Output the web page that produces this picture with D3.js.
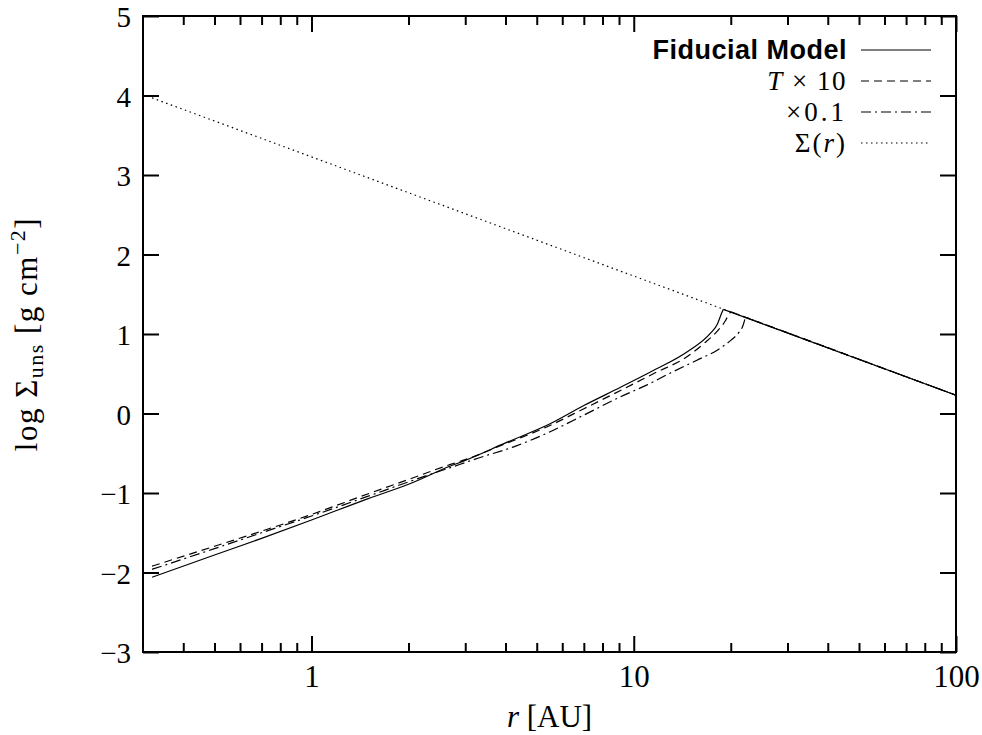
<!DOCTYPE html>
<html>
<head>
<meta charset="utf-8">
<script src="https://cdn.jsdelivr.net/npm/d3@7"></script>
<style>
  html, body { margin: 0; padding: 0; background: #fff; }
  svg { display: block; }
</style>
</head>
<body>
<svg id="chart" width="982" height="735"></svg>
<script>
// Unstable surface density vs. radius (log Sigma in g cm^-2, r in AU)
const fiducialR     = [0.32, 0.5, 0.7, 1, 1.5, 2, 2.7, 3, 4, 5.5, 7, 9.1, 11.5, 14.7, 17.3, 18.2, 18.6, 18.97];
const fiducialSigma = [-2.06, -1.78, -1.57, -1.34, -1.07, -0.89, -0.66, -0.59, -0.37, -0.13, 0.10, 0.33, 0.54, 0.78, 1.01, 1.13, 1.23, 1.31];

const hotR     = [0.32, 0.5, 0.7, 1, 1.5, 2, 2.7, 3, 4, 5.5, 7, 9.1, 11.5, 14.7, 16.5, 18.2, 19.2, 19.7, 20.0];
const hotSigma = [-1.92, -1.67, -1.48, -1.27, -1.01, -0.83, -0.64, -0.58, -0.38, -0.15, 0.06, 0.29, 0.50, 0.72, 0.88, 1.04, 1.16, 1.24, 1.28];

const lowR     = [0.32, 0.5, 0.7, 1, 1.5, 2, 2.7, 3.3, 4.3, 5.5, 7, 9.1, 11, 13, 15.7, 18.2, 20, 21.2, 21.8, 22.2];
const lowSigma = [-1.96, -1.70, -1.50, -1.29, -1.04, -0.86, -0.68, -0.56, -0.41, -0.23, -0.02, 0.21, 0.36, 0.51, 0.67, 0.80, 0.92, 1.02, 1.10, 1.21];

// Power-law disk profile Sigma(r)
const diskR     = [0.32, 100];
const diskSigma = [3.97, 0.23];

const xMajorTicks = [1, 10, 100];
const xMinorTicks = [0.4, 0.5, 0.6, 0.7, 0.8, 0.9, 2, 3, 4, 5, 6, 7, 8, 9, 20, 30, 40, 50, 60, 70, 80, 90];
const yTicks = [-3, -2, -1, 0, 1, 2, 3, 4, 5];

// Legend labels as [text, italic?] runs
const legendLabels = [
  [["Fiducial Model", false]],
  [["T", true], [" × 10", false]],
  [["×0.1", false]],
  [["Σ(", false], ["r", true], [")", false]]
];

const svg = d3.select("#chart");
const frameL = 143, frameR = 956, frameT = 16, frameB = 652;

const x = d3.scaleLog().domain([0.3, 100]).range([frameL, frameR]);
const y = d3.scaleLinear().domain([-3, 5]).range([frameB, frameT]);

const serif = '"Liberation Serif", "Times New Roman", serif';
const sans = '"Liberation Sans", Arial, sans-serif';
const textSize = 31;
const yLabelSize = 29;
const legendSize = 27;

// Tick marks pointing into the frame
function styleAxis(g) {
  g.select(".domain").remove();
  g.selectAll(".tick line").attr("stroke", "#000").attr("stroke-width", 2);
}
function styleLabels(size) {
  return g => g.selectAll(".tick text").attr("fill", "#000")
    .style("font-family", serif).style("font-size", size + "px");
}

svg.append("g").attr("transform", `translate(0,${frameB})`)
  .call(d3.axisBottom(x).tickValues(xMajorTicks).tickSize(-16).tickPadding(13)
        .tickFormat(d3.format("d")))
  .call(styleAxis).call(styleLabels(textSize));
svg.append("g").attr("transform", `translate(0,${frameB})`)
  .call(d3.axisBottom(x).tickValues(xMinorTicks).tickSize(-9).tickFormat(""))
  .call(styleAxis);
svg.append("g").attr("transform", `translate(0,${frameT})`)
  .call(d3.axisTop(x).tickValues(xMajorTicks).tickSize(-16).tickFormat(""))
  .call(styleAxis);
svg.append("g").attr("transform", `translate(0,${frameT})`)
  .call(d3.axisTop(x).tickValues(xMinorTicks).tickSize(-9).tickFormat(""))
  .call(styleAxis);

svg.append("g").attr("transform", `translate(${frameL},0)`)
  .call(d3.axisLeft(y).tickValues(yTicks).tickSize(-16).tickPadding(12)
        .tickFormat(d3.format("d")))
  .call(styleAxis).call(styleLabels(yLabelSize))
  .call(g => g.selectAll(".tick text").attr("dy", "0.37em"));
svg.append("g").attr("transform", `translate(${frameR},0)`)
  .call(d3.axisRight(y).tickValues(yTicks).tickSize(-16).tickFormat(""))
  .call(styleAxis);

// Frame
svg.append("rect")
  .attr("x", frameL).attr("y", frameT)
  .attr("width", frameR - frameL).attr("height", frameB - frameT)
  .attr("fill", "none").attr("stroke", "#000").attr("stroke-width", 2);

const plot = svg.append("g");
const rising = d3.line().x(d => x(d[0])).y(d => y(d[1])).curve(d3.curveMonotoneX);
const straight = d3.line().x(d => x(d[0])).y(d => y(d[1]));

const dashes = {
  solid: null,
  dashed: "8,5",
  dashdot: "10,4,2,4",
  dotted: "1.5,3.5"
};

// Power-law profile
plot.append("path")
  .attr("d", straight(d3.zip(diskR, diskSigma)))
  .attr("fill", "none").attr("stroke", "#000").attr("stroke-width", 1.2)
  .attr("stroke-dasharray", dashes.dotted);

// Disk value at radius r from the power-law end points
const diskSlope = (diskSigma[1] - diskSigma[0]) / (Math.log10(diskR[1]) - Math.log10(diskR[0]));
const diskAt = r => diskSigma[0] + diskSlope * (Math.log10(r) - Math.log10(diskR[0]));

const models = [
  { r: fiducialR, s: fiducialSigma, dash: dashes.solid },
  { r: hotR, s: hotSigma, dash: dashes.dashed },
  { r: lowR, s: lowSigma, dash: dashes.dashdot }
];

models.forEach(m => {
  const pts = d3.zip(m.r, m.s);
  plot.append("path")
    .attr("d", rising(pts))
    .attr("fill", "none").attr("stroke", "#000").attr("stroke-width", 1.2)
    .attr("stroke-dasharray", m.dash);
  // beyond the turnover the curve follows the disk profile
  const rEnd = m.r[m.r.length - 1];
  plot.append("path")
    .attr("d", straight([[rEnd, m.s[m.s.length - 1]], [diskR[1], diskAt(diskR[1])]]))
    .attr("fill", "none").attr("stroke", "#000").attr("stroke-width", 1.2)
    .attr("stroke-dasharray", m.dash);
});

// Legend
const legendStyles = [dashes.solid, dashes.dashed, dashes.dashdot, dashes.dotted];
const legendSpacing = ["0.5px", "1.5px", "3px", "2px"];
const legendY = [50, 81, 112, 143];
const leg = svg.append("g");
legendLabels.forEach((runs, i) => {
  const ly = legendY[i];
  leg.append("line")
    .attr("x1", 861).attr("x2", 931).attr("y1", ly).attr("y2", ly)
    .attr("stroke", "#000").attr("stroke-width", 1.2)
    .attr("stroke-dasharray", legendStyles[i]);
  const t = leg.append("text")
    .attr("x", 847).attr("y", ly).attr("dy", "0.35em")
    .attr("text-anchor", "end").attr("fill", "#000")
    .style("font-family", i === 0 ? sans : serif)
    .style("font-weight", i === 0 ? "bold" : "normal")
    .style("font-size", legendSize + "px")
    .style("letter-spacing", legendSpacing[i]);
  runs.forEach(([txt, italic]) => {
    t.append("tspan").style("font-style", italic ? "italic" : "normal").text(txt);
  });
});

// Axis titles
const xt = svg.append("text")
  .attr("x", (frameL + frameR) / 2).attr("y", 727)
  .attr("text-anchor", "middle").attr("fill", "#000")
  .style("font-family", serif).style("font-size", textSize + "px");
xt.append("tspan").style("font-style", "italic").text("r");
xt.append("tspan").text(" [AU]");

const yt = svg.append("text")
  .attr("transform", `translate(37,${(frameT + frameB) / 2}) rotate(-90)`)
  .attr("text-anchor", "middle").attr("fill", "#000")
  .style("font-family", serif).style("font-size", textSize + "px")
  .style("letter-spacing", "1.5px");
yt.append("tspan").text("log Σ");
yt.append("tspan").style("font-size", "22px").attr("dy", 6).text("uns");
yt.append("tspan").attr("dy", -6).text(" [g cm");
yt.append("tspan").style("font-size", "22px").attr("dy", -12).text("−2");
yt.append("tspan").attr("dy", 12).text("]");
</script>
</body>
</html>
